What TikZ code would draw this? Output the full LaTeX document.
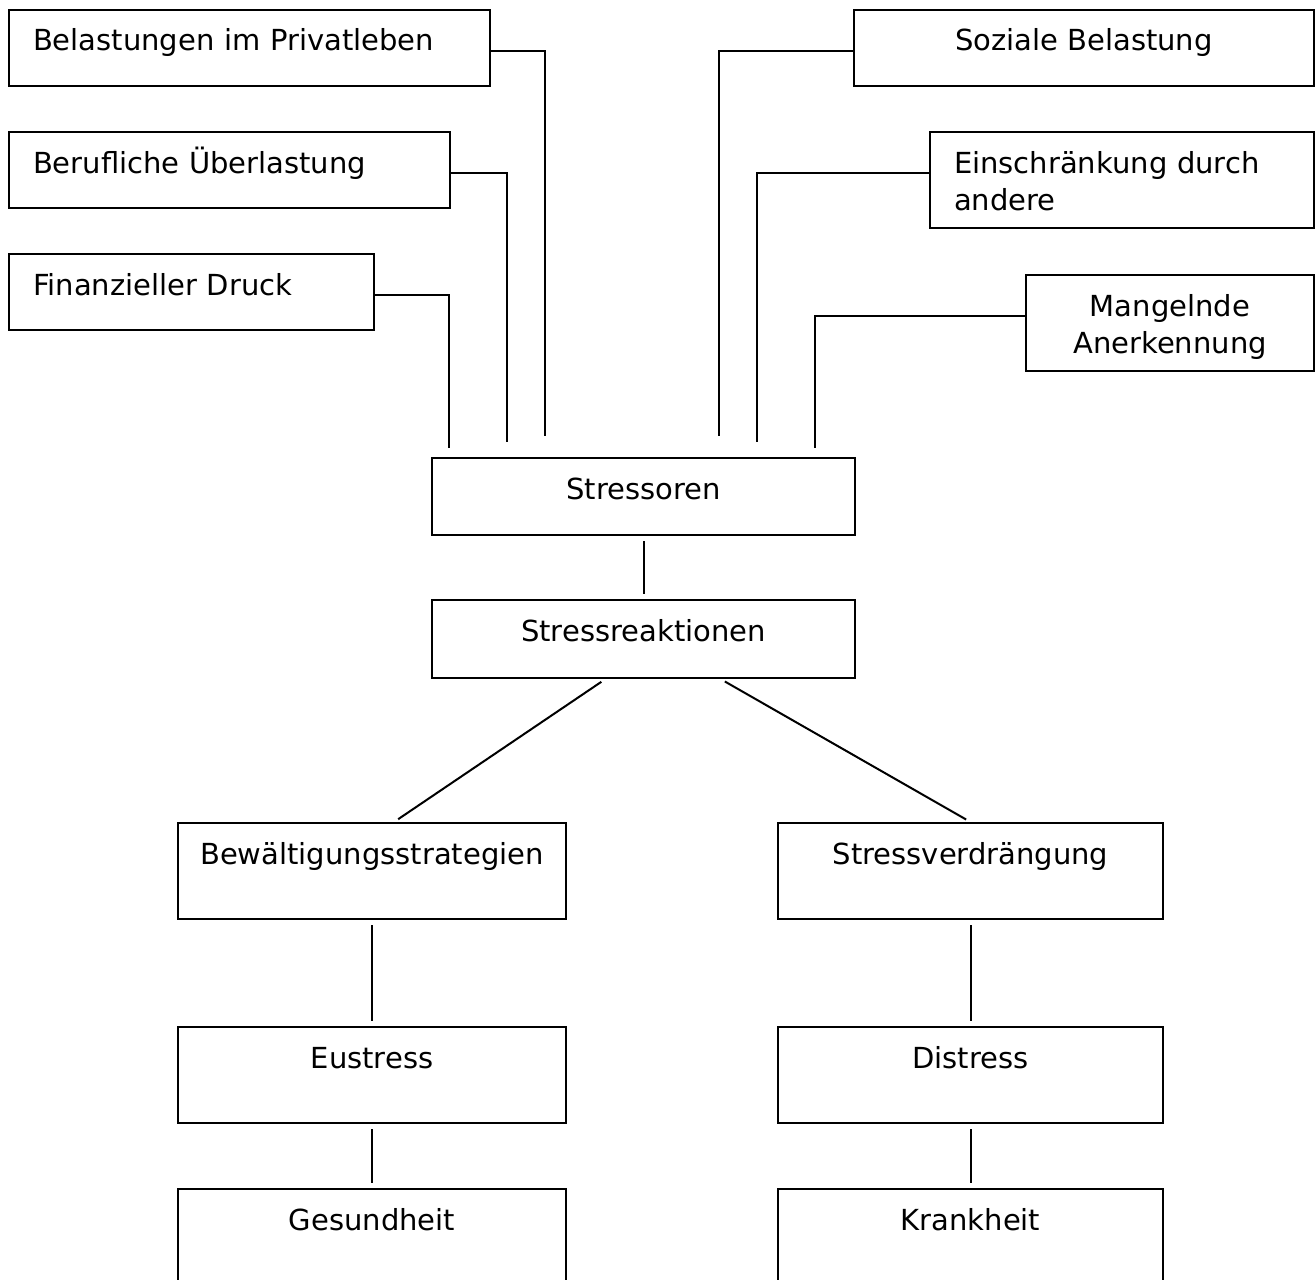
\documentclass[tikz,border=0pt]{standalone}
\usepackage{fontspec}
\setmainfont{DejaVu Sans}
\usepackage{tikz}

\begin{document}
\begin{tikzpicture}[
        x=1pt, y=-1pt,
        block/.style={rectangle, draw, line width=2pt, inner xsep=24pt, inner ysep=0pt, anchor=north west,
            text height=41pt, text depth=35pt, font=\fontsize{29}{37}\selectfont},
        tall/.style={text depth=55pt},
        centred/.style={inner xsep=4pt},
        line/.style={line width=2pt},
        link/.style={line width=2pt, shorten <=5pt, shorten >=5pt}
    ]
        \clip (0,0) rectangle (1316,1279);

        % Stressors
        \node[block, text width=433pt, align=left] (priv) at (8,9) {Belastungen im Privatleben};
        \node[block, text width=393pt, align=left] (beruf) at (8,131) {Berufliche Überlastung};
        \node[block, text width=317pt, align=left] (finanz) at (8,253) {Finanzieller Druck};
        \node[block, centred, minimum width=460pt] (sozial) at (853,9) {Soziale Belastung};
        \node[block, tall, text width=336pt, align=left] (einschr) at (929,131) {Einschränkung durch\\andere};
        \node[block, tall, text width=240pt, align=center] (mangel) at (1025,274) {Mangelnde\\Anerkennung};

        % Chain
        \node[block, centred, text depth=36pt, minimum width=423pt] (stressoren) at (431,457) {Stressoren};
        \node[block, centred, text depth=37pt, minimum width=423pt] (reaktion) at (431,599) {Stressreaktionen};
        \node[block, tall, centred, minimum width=388pt] (bewaelt) at (177,822) {Bewältigungsstrategien};
        \node[block, tall, centred, minimum width=385pt] (verdraeng) at (777,822) {Stressverdrängung};
        \node[block, tall, centred, minimum width=388pt] (eustress) at (177,1026) {Eustress};
        \node[block, tall, centred, minimum width=385pt] (distress) at (777,1026) {Distress};
        \node[block, tall, centred, minimum width=388pt] (gesund) at (177,1188) {Gesundheit};
        \node[block, tall, centred, minimum width=385pt] (krank) at (777,1188) {Krankheit};

        % Inputs above Stressoren
        \coordinate (in1) at (449,448);
        \coordinate (in2) at (507,442);
        \coordinate (in3) at (545,436);
        \coordinate (in4) at (719,436);
        \coordinate (in5) at (757,442);
        \coordinate (in6) at (815,448);

        % Lines
        \draw[line] (finanz.base east) -| (in1);
        \draw[line] (beruf.base east) -| (in2);
        \draw[line] (priv.base east) -| (in3);
        \draw[line] (sozial.base west) -| (in4);
        \draw[line] (einschr.base west) -| (in5);
        \draw[line] (mangel.base west) -| (in6);
        \draw[link] (stressoren) -- (reaktion);
        \draw[link] ([xshift=-38pt]reaktion.south) -- ([xshift=22pt]bewaelt.north);
        \draw[link] ([xshift=77pt]reaktion.south) -- (verdraeng.north);
        \draw[link] (bewaelt) -- (eustress);
        \draw[link] (eustress) -- (gesund);
        \draw[link] (verdraeng) -- (distress);
        \draw[link] (distress) -- (krank);
    \end{tikzpicture}
\end{document}
